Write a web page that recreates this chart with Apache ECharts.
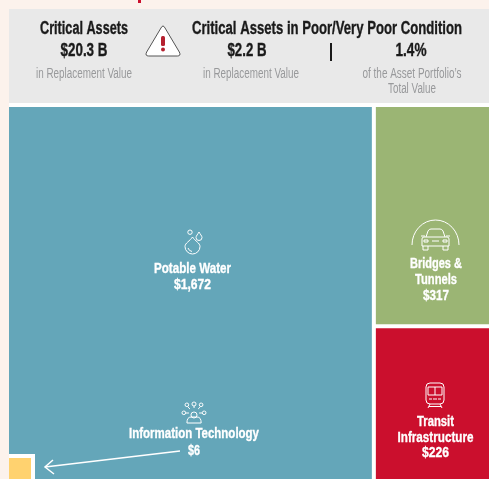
<!DOCTYPE html>
<html><head><meta charset="utf-8">
<style>html,body{margin:0;padding:0;background:#fcf2ec}#c{width:489px;height:479px}</style>
<script src="https://cdn.jsdelivr.net/npm/echarts@6/dist/echarts.min.js"></script>
</head><body><div id="c"></div>
<script>
const categories = ['Potable Water', 'Bridges & Tunnels', 'Transit Infrastructure'];
const values = [1672, 317, 226];
const colors = ['#64a6b9', '#9bb574', '#cb0f2d'];
const smallCategory = 'Information Technology';
const smallValue = 6;
const smallColor = '#ffd26f';
const FONT = '"Liberation Sans",sans-serif';
const money = v => '$' + v.toLocaleString('en-US');

const chart = echarts.init(document.getElementById('c'), null, {renderer:'canvas'});
const box = {left:9, top:107, width:482, height:375};
const total = values.reduce((a,b)=>a+b,0);
const unit = box.width*box.height/total;
const smallW = 22, smallH = unit*smallValue/smallW;

const ctx = document.createElement('canvas').getContext('2d');
const T = (x,y,text,size,fill,weight,tw) => {
  const font = `${weight||'bold'} ${size}px ${FONT}`;
  ctx.font = font;
  const s = tw ? tw/ctx.measureText(text).width : 1;
  const st = {text,font,fill:fill||'#1a1a1a',align:'center',verticalAlign:'middle'};
  if (weight !== 'normal') { st.stroke = st.fill; st.lineWidth = 0.35; }
  return {type:'text',x,y,scaleX:s,silent:true,z:50,style:st};
};
const W = '#ffffff', G = '#98999b', N = 'normal';
const [l0a,l0b] = ['Bridges &','Tunnels'];
const [l1a,l1b] = ['Transit','Infrastructure'];

const graphic = [
 {type:'rect',z:1,silent:true,shape:{x:9,y:9,width:480,height:94},style:{fill:'#e9e9e9'}},
 {type:'rect',z:1,silent:true,shape:{x:9,y:103,width:480,height:376},style:{fill:'#ffffff'}},
 {type:'rect',z:1,silent:true,shape:{x:138,y:0,width:3,height:3},style:{fill:'#cb0f2d'}},
 {type:'rect',z:15,silent:true,shape:{x:9,y:454,width:26,height:25},style:{fill:'#ffffff'}},
 T(84,29,'Critical Assets',18,null,null,88), T(84,51,'$20.3 B',18,null,null,47),
 T(84,74,'in Replacement Value',14,G,N,96),
 T(327,29,'Critical Assets in Poor/Very Poor Condition',18,null,null,270),
 T(247,51,'$2.2 B',18,null,null,39), T(411,51,'1.4%',18,null,null,31),
 {type:'rect',z:50,silent:true,shape:{x:330,y:43,width:2,height:18},style:{fill:'#1a1a1a'}},
 T(251,74,'in Replacement Value',14,G,N,96),
 T(412,74,'of the Asset Portfolio\u2019s',14,G,N,99),
 T(412,89,'Total Value',14,G,N,48),
 T(192.5,269,categories[0],15.5,W,null,77), T(192.5,285,money(values[0]),15.5,W,null,37),
 T(436,264,l0a,15.5,W,null,52), T(436,280,l0b,15.5,W,null,42), T(436,296,money(values[1]),15.5,W,null,26),
 T(435.5,422,l1a,15.5,W,null,37), T(435.5,438,l1b,15.5,W,null,76), T(435.5,453,money(values[2]),15.5,W,null,27),
 T(194,434,smallCategory,15.5,W,null,130),
 T(194,451,money(smallValue),15.5,W,null,12),
 {type:'polyline',z:50,silent:true,shape:{points:[[180,451],[45,467]]},style:{stroke:'#fff',lineWidth:1.5,fill:'none'}},
 {type:'polyline',z:50,silent:true,shape:{points:[[53,460],[45,467],[54,474]]},style:{stroke:'#fff',lineWidth:1.5,fill:'none'}}
];

const icons = [
 {x:146,y:26,w:34,h:30,d:'M17 1 Q18 1 19 3 L33 27 Q35 31 31 31 L3 31 Q-1 31 1 27 L15 3 Q16 1 17 1 Z',fill:'#fff',stroke:'#555'},
 {x:185,y:230,w:17,h:24,d:'M7.5 7 C10 11 15 13 15 16.5 A7.5 7.5 0 0 1 0 16.5 C0 13 5 11 7.5 7 Z M3 18 Q4 21 7 21.5 M5 0 A2.2 2.2 0 1 1 4.99 0 M14 2 C15 4 17 6 17 7.5 A3 3 0 0 1 11 7.5 C11 6 13 4 14 2 Z'},
 {x:412,y:220,w:47,h:25,d:'M0 25 A23.5 23.5 0 0 1 47 25'},
 {x:421,y:229,w:29,h:21,d:'M5 8 L7 2 Q8 0 10 0 L19 0 Q21 0 22 2 L24 8 M0 7 L4 7 M25 7 L29 7 M3 8 L26 8 Q28 8 28 10 L28 17 L1 17 L1 10 Q1 8 3 8 Z M2 17 L2 21 L7 21 L7 17 M22 17 L22 21 L27 21 L27 17 M3 11 H7 V13 H3 Z M22 11 H26 V13 H22 Z M11 12 H18'},
 {x:426,y:383,w:18,h:25,d:'M4 0 H14 Q18 0 18 4 V17 Q18 21 14 21 H4 Q0 21 0 17 V4 Q0 0 4 0 Z M2 4 H16 V12 H2 Z M9 4 V12 M3 16 H6 M12 16 H15 M7 16 H11 M4 21 L2 25 M14 21 L16 25 M3 23.5 H15'},
 {x:182,y:402,w:24,h:21,d:'M12 10 A3 3 0 1 1 11.9 10 M5 21 Q5 15 9 15 H15 Q19 15 19 21 V21 H5 Z M2 9 A1.8 1.8 0 1 1 1.9 9 M22 9 A1.8 1.8 0 1 1 21.9 9 M12 0 A2 2 0 1 1 11.9 0 M12 4 V6 M5 1 A1.8 1.8 0 1 1 4.9 1 M19 1 A1.8 1.8 0 1 1 18.9 1 M6 5 L8 7 M18 5 L16 7 M4 11 H7 M17 11 H20'}
];

chart.setOption({
 animation:false,
 backgroundColor:'#fcf2ec',
 graphic:{elements:graphic},
 series:[
  {type:'treemap',left:box.left,top:box.top,width:box.width,height:box.height,z:10,
   roam:false,nodeClick:false,breadcrumb:{show:false},sort:'desc',
   levels:[{itemStyle:{gapWidth:4,borderWidth:0}}],
   itemStyle:{borderWidth:0},
   label:{show:false},
   data:categories.map((c,i)=>({name:c,value:values[i],itemStyle:{color:colors[i]}}))},
  {type:'treemap',left:box.left,top:458,width:smallW,height:smallH,z:20,
   roam:false,nodeClick:false,breadcrumb:{show:false},
   levels:[{itemStyle:{gapWidth:0,borderWidth:0}}],
   itemStyle:{borderWidth:0},
   label:{show:false},
   data:[{name:smallCategory,value:smallValue,itemStyle:{color:smallColor}}]},
  {type:'custom',coordinateSystem:'none',silent:true,z:40,data:[0],
   renderItem:()=>({type:'group',children:[
     ...icons.map(ic=>({type:'path',x:ic.x,y:ic.y,
       shape:{pathData:ic.d,layout:'cover',x:0,y:0,width:ic.w,height:ic.h},
       style:{fill:ic.fill||'none',stroke:ic.stroke||'#fff',lineWidth:1}})),
     {type:'rect',shape:{x:161,y:36,width:4,height:10,r:1.5},style:{fill:'#b5202f'}},
     {type:'circle',shape:{cx:163,cy:49.5,r:2},style:{fill:'#b5202f'}}
   ]})}
 ]
});
</script></body></html>
